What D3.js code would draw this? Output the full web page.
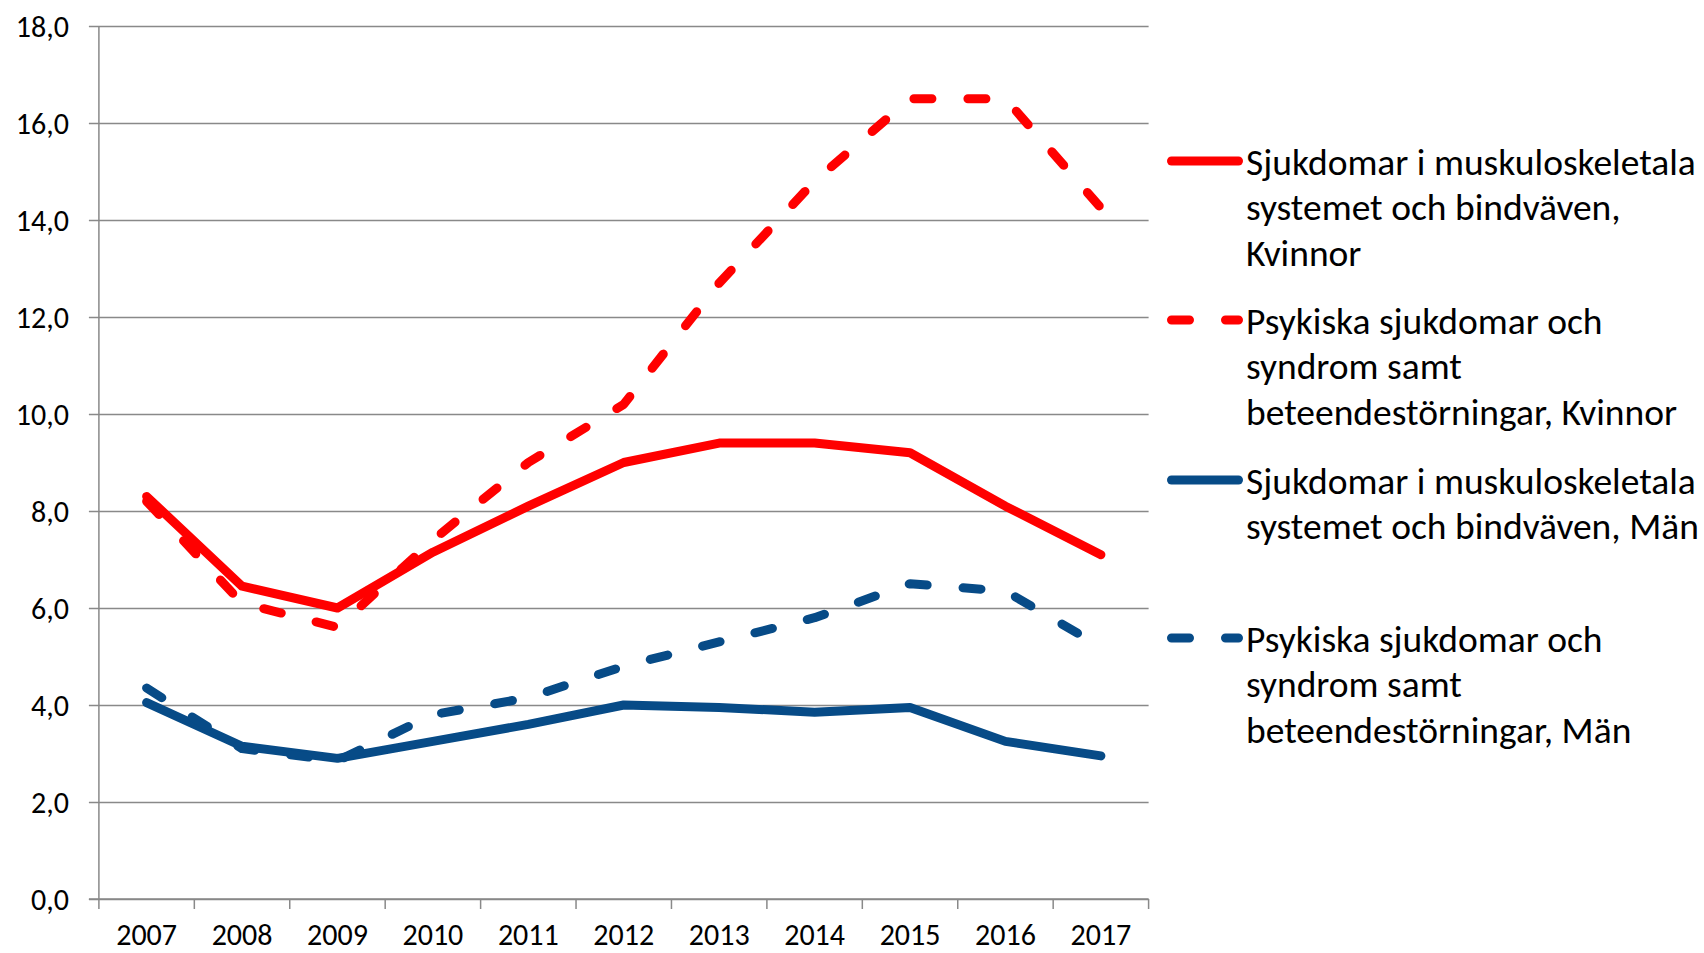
<!DOCTYPE html>
<html>
<head>
<meta charset="utf-8">
<script src="https://cdn.jsdelivr.net/npm/d3@7"></script>
<style>
  body { margin: 0; background: #ffffff; }
  svg { display: block; }
  text { font-family: Carlito, Lato, "Open Sans", sans-serif; fill: #000; }
</style>
</head>
<body>
<svg id="chart" width="1704" height="953"></svg>
<script>
// ---------- data ----------
const years = ["2007","2008","2009","2010","2011","2012","2013","2014","2015","2016","2017"];
const muskuloKvinnor = [8.3, 6.45, 6.0, 7.15, 8.1, 9.0, 9.4, 9.4, 9.2, 8.1, 7.1];
const psykiskaKvinnor = [8.2, 6.1, 5.6, 7.4, 9.0, 10.2, 12.7, 14.8, 16.5, 16.5, 14.25];
const muskuloMan = [4.05, 3.15, 2.9, 3.25, 3.6, 4.0, 3.95, 3.85, 3.95, 3.25, 2.95];
const psykiskaMan = [4.35, 3.1, 2.85, 3.8, 4.15, 4.8, 5.3, 5.8, 6.5, 6.35, 5.2];
const yTicks = [0, 2, 4, 6, 8, 10, 12, 14, 16, 18];
const seriesLabels = [
  ["Sjukdomar i muskuloskeletala", "systemet och bindväven,", "Kvinnor"],
  ["Psykiska sjukdomar och", "syndrom samt", "beteendestörningar, Kvinnor"],
  ["Sjukdomar i muskuloskeletala", "systemet och bindväven, Män"],
  ["Psykiska sjukdomar och", "syndrom samt", "beteendestörningar, Män"]
];

// ---------- styles ----------
const red = "#FF0000", blue = "#074B87";
const seriesStyle = [
  { color: red,  dash: null },
  { color: red,  dash: "18,36" },
  { color: blue, dash: null },
  { color: blue, dash: "18,36" }
];
const seriesValues = [muskuloKvinnor, psykiskaKvinnor, muskuloMan, psykiskaMan];

// ---------- layout ----------
const svg = d3.select("#chart");
const plotLeft = 98.9, plotRight = 1148.6, plotTop = 26, plotBottom = 899;
const gridColor = "#898989";
const axisFont = 30, legendFont = 37.5;

const x = d3.scaleBand().domain(years).range([plotLeft, plotRight]).padding(0);
const y = d3.scaleLinear().domain([0, 18]).range([plotBottom, plotTop]);
const cx = d => x(d) + x.bandwidth() / 2;

const locale = d3.formatLocale({ decimal: ",", thousands: " ", grouping: [3], currency: ["", " kr"] });
const fmt = locale.format(".1f");

svg.append("rect").attr("width", 1704).attr("height", 953).attr("fill", "#fff");

// horizontal gridlines + y ticks via axis
const yAxis = d3.axisLeft(y).tickValues(yTicks).tickFormat(fmt)
  .tickSize(-(plotRight - plotLeft)).tickPadding(0);
const gy = svg.append("g").attr("transform", `translate(${plotLeft},0)`).call(yAxis);
gy.select(".domain").remove();
gy.selectAll(".tick line").attr("stroke", gridColor).attr("stroke-width", 1.5)
  .attr("x1", -10).attr("x2", plotRight - plotLeft);
gy.selectAll(".tick text").attr("x", -30).attr("dy", "0.36em")
  .attr("font-size", axisFont).attr("text-anchor", "end").style("fill", "#000");

// y axis vertical line
svg.append("line").attr("x1", plotLeft).attr("x2", plotLeft).attr("y1", plotTop).attr("y2", plotBottom)
  .attr("stroke", gridColor).attr("stroke-width", 1.5);

// x axis
const xAxis = d3.axisBottom(x).tickSize(0).tickPadding(0);
const gx = svg.append("g").attr("transform", `translate(0,${plotBottom})`).call(xAxis);
gx.select(".domain").remove();
gx.selectAll(".tick text").attr("y", 35).attr("dy", "0.36em").attr("font-size", axisFont).style("fill", "#000");
svg.append("line").attr("x1", plotLeft - 10).attr("x2", plotRight).attr("y1", plotBottom).attr("y2", plotBottom)
  .attr("stroke", gridColor).attr("stroke-width", 1.5);
const boundaries = years.map(d => x(d)).concat([plotRight]);
svg.append("g").selectAll("line").data(boundaries).join("line")
  .attr("x1", d => d).attr("x2", d => d).attr("y1", plotBottom).attr("y2", plotBottom + 10)
  .attr("stroke", gridColor).attr("stroke-width", 1.5);

// lines
const line = d3.line().x((d, i) => cx(years[i])).y(d => y(d));
seriesValues.forEach((vals, k) => {
  svg.append("path").datum(vals).attr("d", line)
    .attr("fill", "none").attr("stroke", seriesStyle[k].color).attr("stroke-width", 9)
    .attr("stroke-linecap", "round").attr("stroke-linejoin", "round")
    .attr("stroke-dasharray", seriesStyle[k].dash);
});

// legend
const legendY = [161, 320, 480, 638];
const lineH = 45.5;
const lg = svg.append("g");
seriesLabels.forEach((lines, k) => {
  const g = lg.append("g").attr("transform", `translate(0,${legendY[k]})`);
  g.append("line").attr("x1", 1171.5).attr("x2", 1238.5).attr("y1", 0).attr("y2", 0)
    .attr("stroke", seriesStyle[k].color).attr("stroke-width", 9)
    .attr("stroke-linecap", "round").attr("stroke-dasharray", seriesStyle[k].dash);
  const t = g.append("text").attr("x", 1246).attr("font-size", legendFont);
  lines.forEach((s, i) => {
    t.append("tspan").attr("x", 1246).attr("y", i * lineH).attr("dy", "0.36em").text(s);
  });
});
</script>
</body>
</html>
